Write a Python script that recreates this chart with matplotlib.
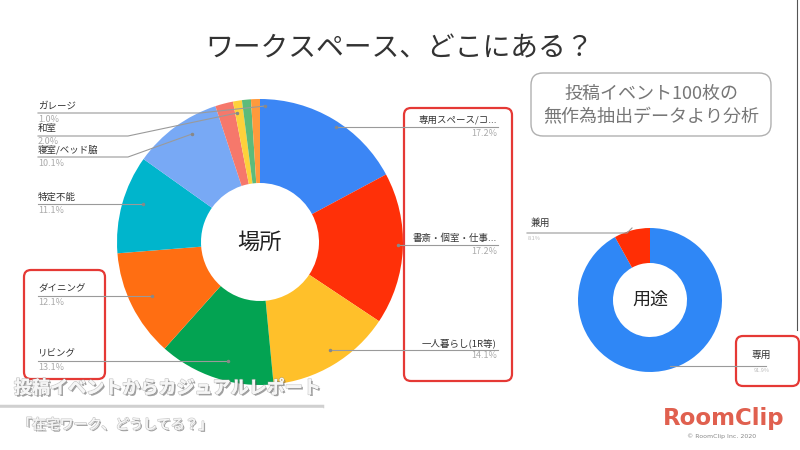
import matplotlib
matplotlib.use("Agg")
import matplotlib.pyplot as plt
from matplotlib.patches import FancyBboxPatch
import matplotlib.patheffects as pe

plt.rcParams['font.family'] = ['Noto Sans CJK JP', 'DejaVu Sans']

# ---------------- data ----------------
place_labels = ["専用スペース/コ...", "書斎・個室・仕事...", "一人暮らし(1R等)", "リビング",
                "ダイニング", "特定不能", "寝室/ベッド脇", "和室", "ガレージ", "その他A", "その他B"]
place_counts = [17, 17, 14, 13, 12, 11, 10, 2, 1, 1, 1]
place_pct = ["17.2%", "17.2%", "14.1%", "13.1%", "12.1%", "11.1%", "10.1%", "2.0%", "1.0%", "1.0%", "1.0%"]
place_colors = ["#3b86f5", "#ff3008", "#ffc02a", "#03a352", "#ff6e12", "#00b5cc",
                "#78a9f5", "#f6786b", "#fdd13b", "#5cbb7a", "#ff9a3c"]

use_labels = ["専用", "兼用"]
use_counts = [91, 8]
use_pct = ["91.9%", "8.1%"]
use_colors = ["#2f87f6", "#ff2e05"]

W, H = 800, 450
fig = plt.figure(figsize=(8, 4.5), dpi=100)
fig.patch.set_facecolor("white")

# overlay axes in pixel coordinates
ov = fig.add_axes([0, 0, 1, 1])
ov.set_xlim(0, W)
ov.set_ylim(H, 0)
ov.axis("off")
ov.set_zorder(5)
ov.patch.set_alpha(0)


def pie_axes(cx, cy, half):
    ax = fig.add_axes([(cx - half) / W, (H - cy - half) / H, 2 * half / W, 2 * half / H])
    ax.set_xlim(-half, half)
    ax.set_ylim(-half, half)
    ax.set_aspect("equal")
    ax.axis("off")
    return ax

# ---------------- main donut ----------------
ax1 = pie_axes(260, 242, 150)
ax1.pie(place_counts, colors=place_colors, startangle=90, counterclock=False,
        radius=143, wedgeprops=dict(width=143 - 59, linewidth=0), frame=False)
ax1.set_xlim(-150, 150)
ax1.set_ylim(-150, 150)
ax1.text(0, 0, "場所", ha="center", va="center", fontsize=16, color="#222222")

# ---------------- second donut ----------------
ax2 = pie_axes(650, 300, 80)
ax2.pie(use_counts, colors=use_colors, startangle=90, counterclock=False,
        radius=72, wedgeprops=dict(width=72 - 37, linewidth=0), frame=False)
ax2.set_xlim(-80, 80)
ax2.set_ylim(-80, 80)
ax2.text(0, 0, "用途", ha="center", va="center", fontsize=13, color="#222222")

line_kw = dict(color="#9a9a9a", lw=0.8)
lab_kw = dict(fontsize=6.8, color="#333333")
pct_kw = dict(fontsize=6.5, color="#aaaaaa")

# left labels: (index, text y, polyline xs, ys)
left = [
    (8, 106, [38, 200, 265], [113, 113, 106]),
    (7, 128, [38, 128, 237], [136, 136, 113]),
    (6, 150, [38, 128, 192], [157, 157, 134]),
    (5, 197, [38, 143], [204, 204]),
    (4, 289, [38, 152], [296, 296]),
    (3, 354, [38, 228], [361, 361]),
]
for idx, ty, xs, ys in left:
    ov.plot(xs, ys, **line_kw)
    ov.plot(xs[-1], ys[-1], "o", ms=1.5, color="#888888")
    ov.text(38, ty, place_labels[idx], ha="left", va="center", **lab_kw)
    ov.text(38, ty + 13.5, place_pct[idx], ha="left", va="center", **pct_kw)

right = [
    (0, 120, [336, 498], 127),
    (1, 238, [398, 498], 245),
    (2, 343, [330, 498], 350),
]
for idx, ty, xs, ly in right:
    ov.plot(xs, [ly, ly], **line_kw)
    ov.plot(xs[0], ly, "o", ms=1.5, color="#888888")
    ov.text(497, ty, place_labels[idx], ha="right", va="center", **lab_kw)
    ov.text(497, ty + 13, place_pct[idx], ha="right", va="center", **pct_kw)

# second donut labels
ov.plot([527, 627, 632], [233, 233, 228], **line_kw)
ov.text(531, 223, use_labels[1], ha="left", va="center", fontsize=7, color="#333333")
ov.text(528, 238, use_pct[1], ha="left", va="center", fontsize=4, color="#bbbbbb")
ov.plot([670, 766], [366, 366], **line_kw)
ov.text(771, 355, use_labels[0], ha="right", va="center", fontsize=7, color="#333333")
ov.text(770, 370, use_pct[0], ha="right", va="center", fontsize=4, color="#bbbbbb")

# title
ov.text(400, 48, "ワークスペース、どこにある？", ha="center", va="center",
        fontsize=20, color="#333333")

# info box
ov.add_patch(FancyBboxPatch((531, 73), 240, 63, boxstyle="round,pad=0,rounding_size=12",
                            fc="white", ec="#b0b0b0", lw=1))
ov.text(651, 94, "投稿イベント100枚の", ha="center", va="center", fontsize=13, color="#777777")
ov.text(651, 117, "無作為抽出データより分析", ha="center", va="center", fontsize=13, color="#777777")

# red highlight boxes
for (x0, y0, x1, y1) in [(404, 108, 512, 381), (24, 270, 105, 379), (736, 336, 799, 386)]:
    ov.add_patch(FancyBboxPatch((x0, y0), x1 - x0, y1 - y0,
                                boxstyle="round,pad=0,rounding_size=7",
                                fc="none", ec="#e53935", lw=1.6))

# right frame edge
ov.plot([797, 797], [0, 330], color="#555555", lw=0.8)

# bottom overlay texts
shadow = [pe.SimplePatchShadow(offset=(1.2, -1.2), shadow_rgbFace="#555555", alpha=0.55),
          pe.withStroke(linewidth=1.2, foreground="#9a9a9a", alpha=0.5),
          pe.Normal()]
ov.text(14, 388, "投稿イベントからカジュアルレポート", ha="left", va="center",
        fontsize=13, color="#f6f6f6", fontweight="bold", path_effects=shadow)
ov.plot([0, 322], [406, 406], color="#d0d0d0", lw=2.5)
ov.plot([0, 322], [408, 408], color="white", lw=1)
ov.text(18, 425, "「在宅ワーク、どうしてる？」", ha="left", va="center",
        fontsize=10, color="#f6f6f6", path_effects=shadow)

# logo
ov.text(724, 419, "RoomClip", ha="center", va="center", fontsize=16.5,
        color="#e0604f", fontweight="bold", family="DejaVu Sans")
ov.text(722, 436, "© RoomClip Inc. 2020", ha="center", va="center", fontsize=4.5,
        color="#888888", family="DejaVu Sans")

fig.savefig("out.png", dpi=100, facecolor="white")
